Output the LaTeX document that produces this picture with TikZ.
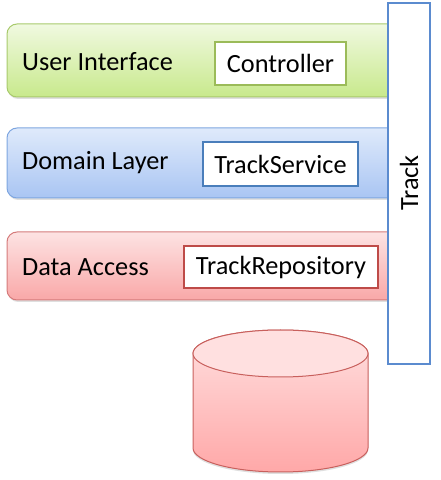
\documentclass[tikz,border=0pt]{standalone}
\usepackage{fontspec}
\setmainfont{Carlito}
\usetikzlibrary{shadows}
\definecolor{gtop}{HTML}{F0F9E0}
\definecolor{gbot}{HTML}{C8E98C}
\definecolor{gline}{HTML}{A8CA6C}
\definecolor{gin}{HTML}{9BBB59}
\definecolor{btop}{HTML}{DFEAFB}
\definecolor{bbot}{HTML}{A9C5F3}
\definecolor{bline}{HTML}{7EA6E0}
\definecolor{bin}{HTML}{4A7EBB}
\definecolor{rtop}{HTML}{FDE3E3}
\definecolor{rbot}{HTML}{F9A8A8}
\definecolor{rline}{HTML}{D57B7B}
\definecolor{rin}{HTML}{BE4B48}
\definecolor{cline}{HTML}{C8605D}
\definecolor{trk}{HTML}{5B8BCF}
\definecolor{cyltop}{HTML}{FFE0E0}
\definecolor{cylbot}{HTML}{FFA8A8}
\tikzset{
  layer/.style={draw, rounded corners=10pt, line width=1pt, minimum width=393pt,
    inner sep=0pt, drop shadow={shadow xshift=1pt, shadow yshift=-2pt, opacity=0.25}},
  inbox/.style={draw, fill=white, line width=2.8pt, inner sep=0pt},
  lbl/.style={anchor=west, inner sep=0pt, font=\fontsize{26.3}{31}\selectfont},
  ilbl/.style={font=\fontsize{26.3}{31}\selectfont}
}
\begin{document}
\begin{tikzpicture}[x=1pt,y=1pt]
\useasboundingbox (0,0) rectangle (441,480);
% layers
\node[layer, top color=gtop, bottom color=gbot, draw=gline, minimum height=73pt] (ui) at (203.5,419.5) {};
\node[layer, top color=btop, bottom color=bbot, draw=bline, minimum height=70pt] (dom) at (203.5,317) {};
\node[layer, top color=rtop, bottom color=rbot, draw=rline, minimum height=68pt] (da) at (203.5,214) {};
% labels
\node[lbl] (uil) at (22,418) {User Interface};
\node[lbl] (doml) at (22,317) {Domain Layer};
\node[lbl] (dal) at (22,213) {Data Access};
% inner boxes
\node[inbox, draw=gin, minimum width=131pt, minimum height=43pt, ilbl] (ctl) at (280.5,416.5) {Controller};
\node[inbox, draw=bin, minimum width=155pt, minimum height=44pt, ilbl] (svc) at (280.5,316) {TrackService};
\node[inbox, draw=rin, minimum width=194pt, minimum height=42pt, ilbl] (repo) at (281,213) {TrackRepository};
% Track
\node[draw=trk, fill=white, line width=2.5pt, minimum width=42pt, minimum height=361pt, inner sep=0pt] (track) at (409,296.5) {};
\node[rotate=90, ilbl] (trackl) at (409,297) {Track};
% cylinder
\path[top color=cyltop, bottom color=cylbot, draw=cline, line width=1pt,
  drop shadow={shadow xshift=0pt, shadow yshift=-2pt, opacity=0.25}]
  (193,126.5) -- (193,32) arc[start angle=180, end angle=360, x radius=87.5pt, y radius=24pt]
  -- (368,126.5) arc[start angle=0, end angle=180, x radius=87.5pt, y radius=23.5pt] -- cycle;
\path[fill=cyltop, draw=cline, line width=1pt] (280.5,126.5) ellipse[x radius=87.5pt, y radius=23.5pt];
\coordinate (db) at (280.5,80);
\end{tikzpicture}
\end{document}
